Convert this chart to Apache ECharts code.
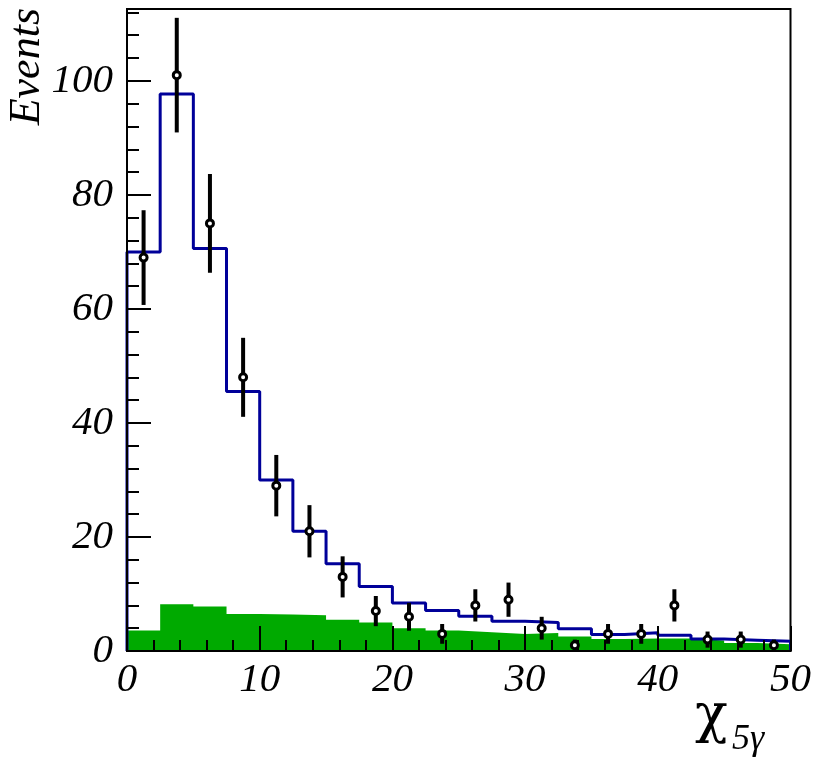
<!DOCTYPE html>
<html>
<head>
<meta charset="utf-8">
<script src="https://cdn.jsdelivr.net/npm/echarts@6/dist/echarts.min.js"></script>
<style>html,body{margin:0;padding:0;background:#fff;}#c{width:814px;height:763px;}</style>
</head>
<body>
<div id="c"></div>
<script>
// Bin lower edges (bin width 2.5), upper edge of the last bin
const binLow = [0, 2.5, 5, 7.5, 10, 12.5, 15, 17.5, 20, 22.5, 25, 27.5, 30, 32.5, 35, 37.5, 40, 42.5, 45, 47.5];
const binEnd = 50;
// Observed events (points with sqrt(N) errors)
const dataCounts = [69, 101, 75, 48, 29, 21, 13, 7, 6, 3, 8, 9, 4, 1, 3, 3, 8, 2, 2, 1];
// Total fit (blue histogram)
const fitTotal = [70, 97.7, 70.6, 45.5, 30.0, 21.0, 15.3, 11.3, 8.4, 7.1, 6.1, 5.2, 5.0, 3.9, 2.9, 3.2, 2.75, 2.1, 1.9, 1.7];
// Background (green filled histogram)
const background = [3.6, 8.2, 7.8, 6.5, 6.4, 6.25, 5.5, 5.0, 4.0, 3.6, 3.3, 3.0, 3.15, 2.55, 2.1, 2.2, 2.2, 1.85, 1.4, 1.2];
// Axis ticks
const xTicks = [0, 10, 20, 30, 40, 50];
const yTicks = [0, 20, 40, 60, 80, 100];

const binHigh = binLow.map((x, i) => i + 1 < binLow.length ? binLow[i + 1] : binEnd);
const binCenter = binLow.map((x, i) => (x + binHigh[i]) / 2);

const bgLine = binLow.map((x, i) => [x, background[i]]).concat([[binEnd, background[background.length - 1]]]);
const fitLine = [[binLow[0], 0]].concat(binLow.map((x, i) => [x, fitTotal[i]]))
  .concat([[binEnd, fitTotal[fitTotal.length - 1]], [binEnd, 0]]);
const pts = binCenter.map((x, i) => [x, dataCounts[i]]);
const errs = binCenter.map((x, i) => [x, dataCounts[i] - Math.sqrt(dataCounts[i]), dataCounts[i] + Math.sqrt(dataCounts[i])]);

const YMAX = 112.6;
const SERIF = '"Liberation Serif", "Times New Roman", Times, serif';
const labelFont = { fontFamily: SERIF, fontStyle: 'italic', fontSize: 41, color: '#000' };

const chart = echarts.init(document.getElementById('c'), null, { renderer: 'canvas' });
chart.setOption({
  animation: false,
  backgroundColor: '#fff',
  grid: { left: 127, right: 21, top: 9, bottom: 112, show: true, borderColor: '#000', borderWidth: 2, backgroundColor: 'transparent' },
  xAxis: {
    type: 'value', min: xTicks[0], max: xTicks[xTicks.length - 1], interval: 10, z: 10,
    axisLine: { lineStyle: { color: '#000', width: 2 } },
    axisTick: { inside: true, length: 25, lineStyle: { color: '#000', width: 2 } },
    minorTick: { show: true, splitNumber: 5, length: 11, lineStyle: { color: '#000', width: 2 } },
    splitLine: { show: false },
    axisLabel: Object.assign({ margin: 9, formatter: v => xTicks.includes(v) ? String(v) : '' }, labelFont)
  },
  yAxis: [{
    type: 'value', min: 0, max: YMAX, interval: 4, z: 10,
    axisLine: { show: true, lineStyle: { color: '#000', width: 2 } },
    axisTick: { inside: true, length: 12, lineStyle: { color: '#000', width: 2 } },
    splitLine: { show: false },
    axisLabel: { show: false }
  }, {
    type: 'value', min: 0, max: YMAX, interval: 20, z: 10, position: 'left', offset: 0,
    axisLine: { show: false },
    axisTick: { show: true, inside: true, length: 24, lineStyle: { color: '#000', width: 2 } },
    splitLine: { show: false },
    axisLabel: Object.assign({ margin: 14, showMaxLabel: false, formatter: v => yTicks.includes(v) ? String(v) : '' }, labelFont)
  }],
  graphic: [
    { type: 'text', x: 27, y: 8, rotation: Math.PI / 2,
      style: { text: 'Events', fill: '#000', font: 'italic 44px ' + SERIF, align: 'right', verticalAlign: 'middle' } },
    { type: 'text', x: 695, y: 718,
      style: { text: 'χ', fill: '#000', font: '54px "DejaVu Serif", serif', align: 'left', verticalAlign: 'middle' } },
    { type: 'text', x: 732, y: 740,
      style: { text: '5γ', fill: '#000', font: 'italic 36px ' + SERIF, align: 'left', verticalAlign: 'middle' } }
  ],
  series: [
    {
      type: 'line', name: 'background', yAxisIndex: 0, z: 1, step: 'end', symbol: 'none',
      data: bgLine,
      lineStyle: { width: 0, color: '#00aa00' },
      areaStyle: { color: '#00aa00', opacity: 1, origin: 'start' }
    },
    {
      type: 'line', name: 'fit', yAxisIndex: 0, z: 2, step: 'end', symbol: 'none',
      data: fitLine,
      lineStyle: { color: '#000099', width: 3 }
    },
    {
      type: 'custom', name: 'errors', yAxisIndex: 0, z: 3,
      data: errs,
      encode: { x: 0, y: [1, 2] },
      renderItem: function (params, api) {
        const a = api.coord([api.value(0), api.value(1)]);
        const b = api.coord([api.value(0), api.value(2)]);
        return { type: 'line', shape: { x1: a[0], y1: a[1], x2: b[0], y2: b[1] },
                 style: { stroke: '#000', lineWidth: 4 } };
      }
    },
    {
      type: 'scatter', name: 'data', yAxisIndex: 0, z: 4,
      data: pts, symbol: 'circle', symbolSize: 7,
      itemStyle: { color: '#fff', borderColor: '#000', borderWidth: 3, opacity: 1 }
    }
  ]
});
</script>
</body>
</html>
